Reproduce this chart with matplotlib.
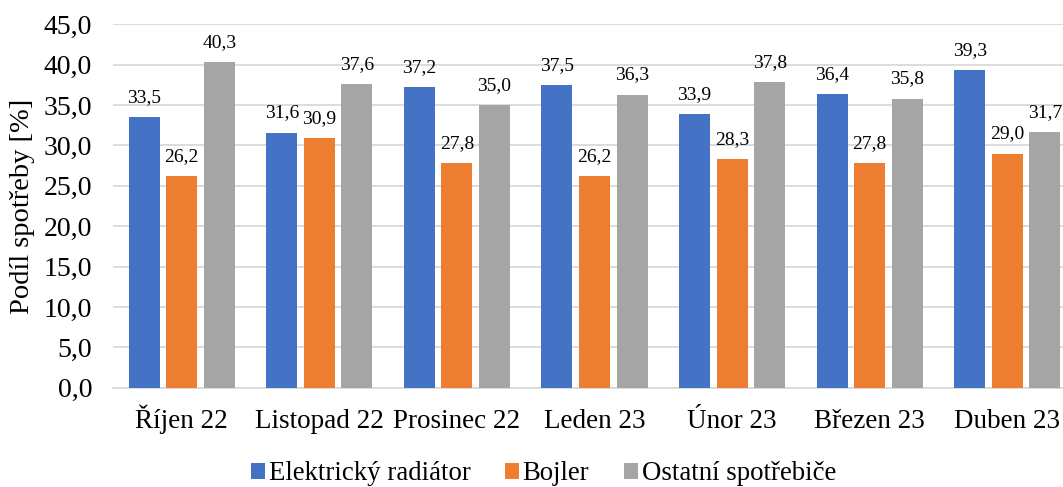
import matplotlib.pyplot as plt
import numpy as np

months = ['Říjen 22', 'Listopad 22', 'Prosinec 22', 'Leden 23', 'Únor 23', 'Březen 23', 'Duben 23']
radiator = [33.5, 31.6, 37.2, 37.5, 33.9, 36.4, 39.3]
bojler = [26.2, 30.9, 27.8, 26.2, 28.3, 27.8, 29.0]
ostatni = [40.3, 37.6, 35.0, 36.3, 37.8, 35.8, 31.7]
series_names = ['Elektrický radiátor', 'Bojler', 'Ostatní spotřebiče']
colors = ['#4472C4', '#ED7D31', '#A5A5A5']

plt.rcParams['font.family'] = ['Liberation Serif', 'DejaVu Serif']

W, H = 1063, 487
fig = plt.figure(figsize=(W / 100, H / 100), dpi=100)
# axes placed in pixel terms; right part runs past the figure edge like the original
ax = fig.add_axes([113 / W, (H - 387.7) / H, 963 / W, 363.4 / H])

x = np.arange(len(months))
width = 0.225
offset = 0.273
for i, (vals, name, col) in enumerate(zip([radiator, bojler, ostatni], series_names, colors)):
    bars = ax.bar(x + (i - 1) * offset, vals, width, color=col, label=name, zorder=3)
    ax.bar_label(bars, labels=[f'{v:.1f}'.replace('.', ',') for v in vals],
                 padding=8, fontsize=14)

ax.set_xlim(-0.5, len(months) - 0.5)
ax.set_ylim(0, 45)
ax.set_yticks(np.arange(0, 46, 5))
ax.set_yticklabels([f'{v:.1f}'.replace('.', ',') for v in np.arange(0, 46, 5)])
ax.set_xticks(x)
ax.set_xticklabels(months)
ax.tick_params(axis='both', length=0)
ax.tick_params(axis='x', pad=29, labelsize=19.5)
ax.tick_params(axis='y', pad=15, labelsize=20)
# same baseline for all month names (Ř has a caron on top)
for lbl in ax.get_xticklabels():
    lbl.set_verticalalignment('baseline')
ax.yaxis.grid(True, color='#D9D9D9', linewidth=1.3, zorder=0)
for s in ['top', 'right', 'left']:
    ax.spines[s].set_visible(False)
ax.spines['bottom'].set_color('#D9D9D9')
ax.spines['bottom'].set_linewidth(1.3)

ax.set_ylabel('Podíl spotřeby [%]', fontsize=20.5, labelpad=6)

fig.legend(loc='center', bbox_to_anchor=(543.5 / W, 1 - 474 / H), ncol=3, frameon=False,
           fontsize=19.3, handlelength=0.5, handleheight=0.5, handletextpad=0.15,
           columnspacing=1.3)

fig.savefig('out.png', dpi=100)
